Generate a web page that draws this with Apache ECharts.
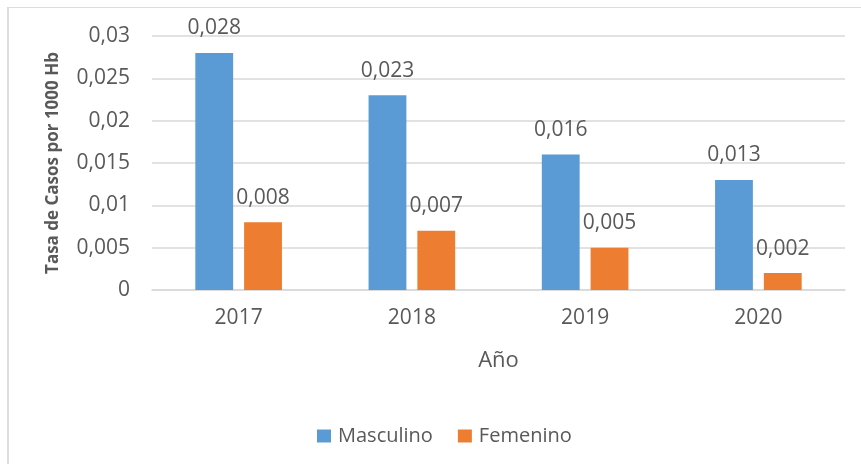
<!DOCTYPE html>
<html>
<head>
<meta charset="utf-8">
<script src="https://cdn.jsdelivr.net/npm/echarts@6/dist/echarts.min.js"></script>
<style>
  html, body { margin: 0; padding: 0; background: #fff; }
  #frame { position: absolute; left: 7px; top: 7px; width: 854px; height: 457px;
           border-left: 2px solid #dcdcdc; border-top: 1px solid #dcdcdc; box-sizing: border-box; }
  #chart { position: absolute; left: 0; top: 0; width: 861px; height: 464px; }
</style>
</head>
<body>
<div id="frame"></div>
<div id="chart"></div>
<script>
const categories = ['2017', '2018', '2019', '2020'];
const masculino = [0.028, 0.023, 0.016, 0.013];
const femenino = [0.008, 0.007, 0.005, 0.002];
const seriesNames = ['Masculino', 'Femenino'];
const yAxisTitle = 'Tasa de Casos por 1000 Hb';
const xAxisTitle = 'Año';

const FONT = '"Open Sans", sans-serif';
const TXT = '#595959';
const fmt = v => String(v).replace('.', ',');

const chart = echarts.init(document.getElementById('chart'), null, { renderer: 'canvas' });
const labelCfg = {
  show: true, position: 'top', distance: 14,
  color: TXT, fontFamily: FONT, fontSize: 21,
  formatter: p => fmt(p.value)
};
chart.setOption({
  animation: false,
  backgroundColor: 'transparent',
  textStyle: { fontFamily: FONT },
  grid: { left: 152, right: 16, top: 36, bottom: 174, containLabel: false },
  legend: {
    data: seriesNames,
    left: 312, top: 421,
    itemWidth: 14, itemHeight: 13, itemGap: 25,
    icon: 'rect',
    textStyle: { color: TXT, fontFamily: FONT, fontSize: 20, padding: [0, 0, 0, 2] }
  },
  xAxis: {
    type: 'category',
    data: categories,
    name: xAxisTitle,
    nameLocation: 'middle',
    nameGap: 60,
    nameTextStyle: { color: TXT, fontFamily: FONT, fontSize: 22 },
    axisLine: { lineStyle: { color: '#d9d9d9', width: 1.5 } },
    axisTick: { show: false },
    axisLabel: { color: TXT, fontFamily: FONT, fontSize: 21, margin: 18 }
  },
  yAxis: {
    type: 'value',
    min: 0, max: 0.03, interval: 0.005,
    name: yAxisTitle,
    nameLocation: 'middle',
    nameGap: 90,
    nameTextStyle: { color: TXT, fontFamily: FONT, fontSize: 17, fontWeight: 'bold' },
    axisLine: { show: false },
    axisTick: { show: false },
    splitLine: { lineStyle: { color: '#d9d9d9', width: 1.5 } },
    axisLabel: { color: TXT, fontFamily: FONT, fontSize: 21, margin: 22, formatter: v => fmt(v) }
  },
  series: [
    { name: seriesNames[0], type: 'bar', data: masculino, barGap: '29%', barCategoryGap: '50%',
      itemStyle: { color: '#5B9BD5' }, label: labelCfg },
    { name: seriesNames[1], type: 'bar', data: femenino,
      itemStyle: { color: '#ED7D31' }, label: labelCfg }
  ]
});
</script>
</body>
</html>
